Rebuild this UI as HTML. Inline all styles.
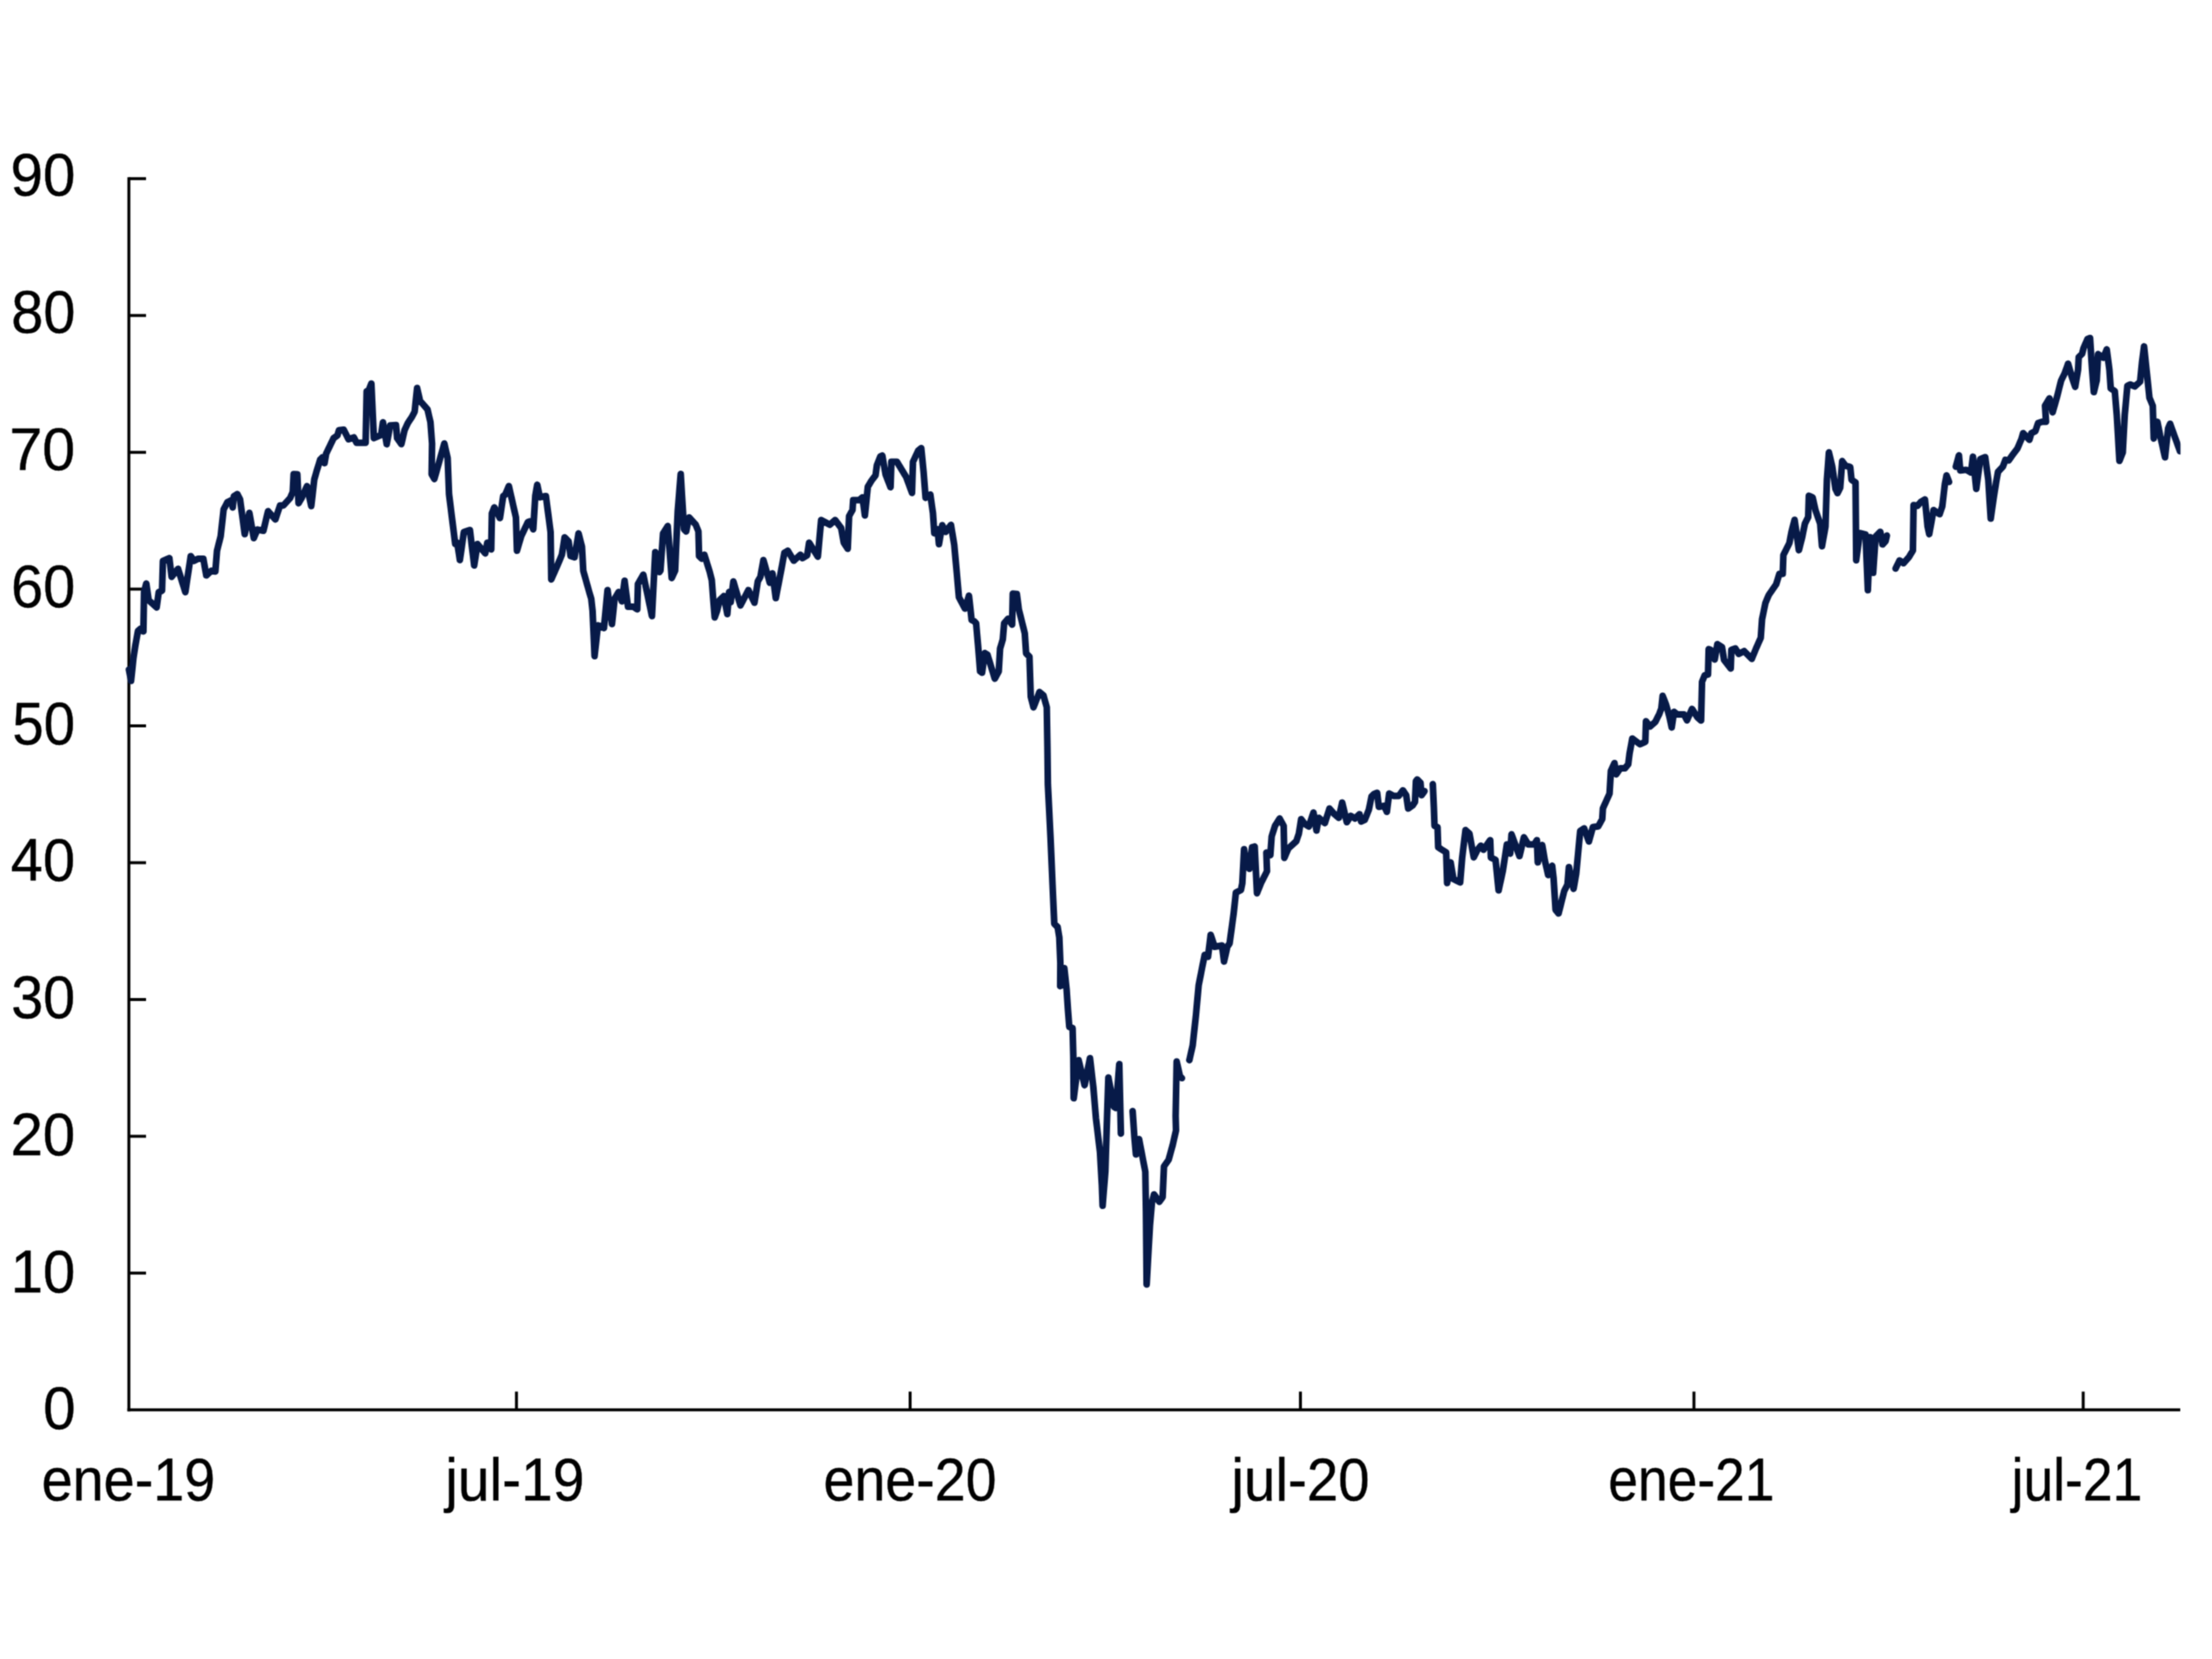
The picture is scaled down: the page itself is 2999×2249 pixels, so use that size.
<!DOCTYPE html>
<html><head><meta charset="utf-8"><title>chart</title>
<style>
html,body{margin:0;padding:0;background:#fff;}
body{width:2999px;height:2249px;overflow:hidden;}
svg{display:block;}
text{font-family:"Liberation Sans",sans-serif;font-size:82px;fill:#000;stroke:#000;stroke-width:0.5px;}
.ax line{stroke:#000;stroke-width:4;stroke-linecap:butt;}
</style></head><body>
<svg width="2999" height="2249" viewBox="0 0 2999 2249">
<rect width="2999" height="2249" fill="#fff"/>
<filter id="soft" color-interpolation-filters="sRGB" x="0" y="0" width="2999" height="2249" filterUnits="userSpaceOnUse"><feConvolveMatrix order="3" kernelMatrix="1 2 1 2 4 2 1 2 1" divisor="16" edgeMode="duplicate" preserveAlpha="false"/></filter>
<g filter="url(#soft)">
<g class="ax">
<line x1="174.7" x2="174.7" y1="240.2" y2="1913.3"/>
<line x1="172.7" x2="2956" y1="1911.3" y2="1911.3"/>
<line x1="174.7" x2="198" y1="1725.8" y2="1725.8"/>
<line x1="174.7" x2="198" y1="1540.4" y2="1540.4"/>
<line x1="174.7" x2="198" y1="1355.0" y2="1355.0"/>
<line x1="174.7" x2="198" y1="1169.5" y2="1169.5"/>
<line x1="174.7" x2="198" y1="984.0" y2="984.0"/>
<line x1="174.7" x2="198" y1="798.6" y2="798.6"/>
<line x1="174.7" x2="198" y1="613.2" y2="613.2"/>
<line x1="174.7" x2="198" y1="427.7" y2="427.7"/>
<line x1="174.7" x2="198" y1="242.2" y2="242.2"/>
<line x1="700.2" x2="700.2" y1="1886.5" y2="1911.3"/>
<line x1="1233.9" x2="1233.9" y1="1886.5" y2="1911.3"/>
<line x1="1763.1" x2="1763.1" y1="1886.5" y2="1911.3"/>
<line x1="2296.6" x2="2296.6" y1="1886.5" y2="1911.3"/>
<line x1="2824.4" x2="2824.4" y1="1886.5" y2="1911.3"/>
</g>
<g class="yl">
<text transform="translate(58.61,1937.3) scale(0.9641,1)">0</text>
<text transform="translate(14.53,1751.6) scale(0.9610,1)">10</text>
<text transform="translate(14.15,1565.8) scale(0.9631,1)">20</text>
<text transform="translate(15.14,1380.0) scale(0.9518,1)">30</text>
<text transform="translate(14.49,1194.2) scale(0.9570,1)">40</text>
<text transform="translate(16.77,1008.5) scale(0.9333,1)">50</text>
<text transform="translate(14.88,822.7) scale(0.9548,1)">60</text>
<text transform="translate(12.68,636.9) scale(0.9798,1)">70</text>
<text transform="translate(15.19,451.2) scale(0.9536,1)">80</text>
<text transform="translate(14.24,265.4) scale(0.9643,1)">90</text>
</g>
<g class="xl">
<text transform="translate(56.51,2033.8) scale(0.9219,1)">ene-19</text>
<text transform="translate(603.68,2033.8) scale(0.9407,1)">jul-19</text>
<text transform="translate(1116.53,2033.8) scale(0.9185,1)">ene-20</text>
<text transform="translate(1669.47,2033.8) scale(0.9352,1)">jul-20</text>
<text transform="translate(2180.57,2033.8) scale(0.8822,1)">ene-21</text>
<text transform="translate(2727.37,2033.8) scale(0.8834,1)">jul-21</text>
</g>
<clipPath id="pc"><rect x="150" y="200" width="2806.3" height="1750"/></clipPath>
<path clip-path="url(#pc)" d="M174.8,907.6 L177.7,923.0 L180.8,893.2 L183.5,875.1 L187.1,855.2 L190.4,852.5 L194.4,856.1 L195.3,802.7 L198.3,791.0 L201.6,813.6 L212.4,823.5 L215.2,802.7 L219.7,800.9 L220.9,760.3 L229.6,756.6 L232.7,782.0 L241.4,771.1 L251.3,802.7 L258.6,753.9 L263.1,760.3 L268.5,757.5 L275.7,757.5 L279.7,780.1 L286.6,773.8 L292.0,774.7 L294.2,746.7 L299.2,726.8 L303.2,690.6 L308.3,680.7 L313.3,678.3 L315.5,687.9 L317.0,672.9 L321.8,669.8 L325.5,677.1 L331.8,724.1 L338.1,695.2 L344.1,729.5 L349.0,717.8 L357.1,719.6 L363.4,693.0 L373.4,704.2 L379.7,685.2 L384.2,685.2 L393.3,675.3 L396.9,667.1 L398.1,642.7 L403.1,643.1 L404.8,682.2 L408.9,675.3 L416.2,659.0 L422.0,686.1 L426.1,650.0 L429.7,637.3 L434.2,622.9 L437.0,620.1 L440.0,627.9 L442.2,615.0 L452.3,594.0 L457.4,590.4 L459.5,583.2 L466.0,582.5 L472.5,595.5 L479.8,592.9 L483.4,600.2 L495.7,600.2 L497.1,530.4 L500.0,528.9 L503.5,519.9 L506.9,594.0 L516.7,589.7 L519.2,572.5 L524.3,602.2 L529.0,576.7 L536.9,576.3 L538.4,594.0 L544.2,602.1 L548.5,583.2 L552.8,573.8 L558.6,565.1 L562.2,557.9 L565.5,526.0 L569.5,543.4 L579.6,555.0 L583.6,572.3 L585.8,601.3 L585.2,642.7 L588.9,649.4 L594.3,630.1 L602.4,601.2 L606.9,621.0 L608.8,669.9 L612.7,701.4 L617.2,737.5 L619.9,735.7 L623.5,759.2 L628.9,721.3 L637.1,718.6 L642.9,766.5 L647.4,737.5 L657.9,750.2 L660.6,735.7 L666.0,744.8 L666.9,695.9 L670.2,687.8 L677.8,702.3 L682.3,672.4 L685.0,670.6 L689.9,658.9 L699.5,701.4 L700.9,746.6 L706.7,726.7 L715.7,707.7 L718.4,706.8 L723.0,717.6 L725.7,672.4 L728.4,657.1 L732.0,674.2 L740.1,672.4 L746.5,721.3 L747.4,785.5 L757.3,762.9 L761.8,752.0 L765.5,728.5 L770.9,733.9 L773.6,753.8 L779.0,755.6 L784.4,723.1 L789.0,741.2 L790.8,773.7 L798.9,802.6 L801.6,811.7 L803.4,828.0 L806.1,889.4 L810.7,847.8 L814.3,848.8 L818.8,851.5 L823.7,799.9 L829.7,846.0 L833.3,811.7 L838.7,802.6 L843.2,815.3 L846.8,787.3 L851.4,822.5 L858.6,822.5 L864.0,826.1 L864.9,791.8 L872.2,779.1 L883.9,835.2 L888.4,748.4 L893.9,775.5 L895.4,773.7 L899.0,723.1 L905.3,713.1 L910.7,783.7 L915.3,773.7 L918.9,692.3 L922.9,642.6 L927.4,717.6 L930.3,720.4 L934.2,701.4 L943.3,711.3 L946.9,720.4 L947.8,753.8 L951.4,757.4 L955.0,752.0 L962.3,775.5 L965.0,786.4 L966.8,809.9 L969.0,837.0 L972.2,828.0 L975.8,813.5 L981.3,808.1 L986.1,832.5 L988.5,802.6 L990.7,816.2 L994.3,788.2 L1003.9,820.7 L1014.7,799.9 L1022.9,817.1 L1027.4,788.2 L1031.0,781.8 L1035.0,759.2 L1043.7,790.0 L1047.3,777.3 L1051.8,810.8 L1059.0,773.7 L1063.5,749.3 L1068.1,746.6 L1076.2,760.1 L1085.2,752.0 L1088.0,756.5 L1094.3,752.9 L1097.0,735.7 L1108.8,754.7 L1113.3,705.0 L1125.0,711.3 L1132.3,705.0 L1140.4,715.8 L1144.0,735.7 L1149.4,743.9 L1151.2,699.6 L1155.8,691.4 L1156.7,677.9 L1164.8,677.9 L1169.3,674.2 L1172.6,698.7 L1176.6,659.8 L1181.7,651.4 L1187.1,644.2 L1188.9,630.6 L1193.5,618.9 L1196.2,617.6 L1200.7,643.3 L1207.4,660.5 L1208.5,626.1 L1216.1,626.1 L1228.7,646.9 L1236.5,668.2 L1237.8,626.1 L1245.0,610.7 L1249.0,607.5 L1252.2,639.7 L1254.9,674.9 L1261.3,670.4 L1264.9,695.7 L1266.7,722.9 L1271.2,717.4 L1273.0,737.7 L1277.5,712.0 L1282.1,721.0 L1289.3,711.6 L1293.8,739.1 L1297.4,778.9 L1300.1,809.7 L1308.3,825.0 L1313.7,807.5 L1317.3,840.4 L1320.9,842.2 L1323.4,845.0 L1326.1,875.7 L1328.8,910.1 L1331.5,911.9 L1335.2,885.3 L1338.8,887.5 L1348.7,920.0 L1354.1,910.1 L1355.9,879.3 L1359.6,866.7 L1361.4,845.0 L1366.8,838.7 L1372.2,846.8 L1373.1,804.8 L1378.6,805.2 L1381.3,826.0 L1389.4,858.6 L1391.2,885.7 L1395.7,890.2 L1397.5,944.4 L1401.2,958.9 L1409.3,938.1 L1414.7,942.6 L1419.2,958.9 L1420.1,1013.2 L1420.7,1063.3 L1424.3,1135.6 L1427.0,1198.9 L1429.4,1252.3 L1433.9,1256.8 L1436.2,1270.8 L1437.6,1305.2 L1437.4,1336.9 L1440.1,1335.0 L1443.0,1312.4 L1446.1,1341.4 L1447.9,1368.5 L1449.7,1392.0 L1454.2,1393.8 L1455.2,1431.8 L1455.7,1488.8 L1462.4,1437.2 L1470.5,1471.2 L1477.8,1434.5 L1482.3,1473.4 L1485.9,1516.2 L1491.3,1561.4 L1493.9,1606.6 L1494.9,1634.6 L1498.6,1588.5 L1500.9,1516.2 L1502.7,1460.7 L1510.3,1500.5 L1513.0,1502.0 L1517.5,1442.6 L1519.7,1536.7 M1535.6,1506.2 L1538.0,1541.5 L1540.1,1565.0 L1544.3,1544.2 L1548.3,1565.0 L1552.8,1588.5 L1553.7,1642.7 L1554.6,1741.3 L1559.1,1660.8 L1561.8,1630.1 L1564.6,1619.2 L1571.8,1629.2 L1576.3,1622.9 L1578.1,1581.3 L1584.4,1572.2 L1589.9,1552.3 L1594.4,1532.4 L1593.9,1513.1 L1595.3,1439.0 L1599.8,1458.9 L1602.5,1461.6 M1612.5,1437.2 L1617.0,1417.3 L1621.5,1375.7 L1625.1,1335.9 L1629.7,1312.4 L1633.3,1294.4 L1637.8,1297.1 L1641.4,1267.2 L1646.8,1283.5 L1656.8,1281.7 L1659.5,1303.4 L1664.0,1283.5 L1667.1,1278.7 L1672.5,1238.9 L1675.6,1210.0 L1682.5,1206.4 L1684.3,1197.3 L1686.7,1151.2 L1689.7,1173.8 L1693.9,1177.8 L1697.5,1148.5 L1701.1,1147.6 L1704.2,1210.9 L1709.6,1197.3 L1717.8,1181.0 L1716.9,1155.7 L1722.3,1159.3 L1724.1,1134.0 L1728.6,1119.6 L1734.9,1109.6 L1740.4,1119.6 L1741.3,1163.0 L1746.7,1150.3 L1757.5,1140.4 L1760.9,1130.4 L1764.1,1110.5 L1769.0,1116.9 L1774.5,1120.5 L1780.8,1101.5 L1784.9,1125.9 L1788.0,1108.7 L1796.2,1115.9 L1802.5,1096.1 L1808.8,1103.3 L1815.2,1108.7 L1819.7,1087.9 L1826.0,1114.6 L1831.4,1106.0 L1836.9,1109.6 L1843.2,1103.7 L1845.4,1113.7 L1850.4,1111.4 L1855.8,1097.9 L1859.5,1079.8 L1863.1,1076.2 L1867.1,1074.8 L1869.4,1093.8 L1876.6,1092.4 L1880.3,1100.6 L1883.4,1075.7 L1889.3,1078.9 L1896.5,1078.9 L1902.0,1071.4 L1906.5,1078.0 L1909.2,1096.1 L1915.5,1091.5 L1918.4,1087.0 L1919.7,1059.0 L1921.4,1056.7 L1925.9,1061.2 L1927.3,1078.0 L1931.3,1072.5 M1942.6,1063.1 L1944.0,1094.2 L1944.9,1119.6 L1949.0,1121.4 L1949.9,1148.5 L1953.5,1151.0 L1960.7,1155.5 L1962.0,1197.1 L1966.7,1169.1 L1970.6,1191.7 L1979.7,1196.2 L1982.4,1162.7 L1986.9,1125.3 L1992.3,1130.2 L1998.1,1162.2 L2003.2,1151.9 L2007.7,1146.5 L2011.3,1151.9 L2020.4,1138.9 L2021.3,1162.7 L2027.6,1165.5 L2031.8,1207.1 L2037.5,1180.8 L2043.0,1144.7 L2047.5,1157.3 L2049.3,1131.1 L2060.1,1160.6 L2066.1,1135.1 L2071.9,1144.7 L2080.0,1144.7 L2083.7,1138.9 L2084.9,1169.1 L2090.9,1145.6 L2094.5,1166.4 L2099.0,1186.3 L2104.4,1173.6 L2106.3,1189.9 L2109.0,1233.3 L2113.1,1238.3 L2120.7,1208.0 L2125.2,1198.9 L2127.1,1175.4 L2133.4,1204.9 L2137.0,1184.4 L2142.4,1126.6 L2147.8,1123.0 L2154.2,1140.7 L2159.6,1121.2 L2166.8,1120.3 L2172.3,1110.3 L2173.2,1095.8 L2182.2,1075.9 L2184.0,1045.2 L2188.9,1034.4 L2191.2,1049.7 L2196.7,1041.6 L2203.0,1041.6 L2207.5,1036.2 L2209.3,1021.7 L2213.0,1001.2 L2223.5,1009.0 L2230.7,1005.7 L2231.6,977.7 L2237.1,984.9 L2244.3,978.6 L2249.7,967.7 L2252.4,960.5 L2254.2,943.3 L2258.8,955.1 L2263.3,971.4 L2266.5,986.2 L2269.6,965.0 L2274.1,968.6 L2283.2,968.6 L2287.2,976.4 L2294.0,961.0 L2301.3,972.3 L2306.3,976.8 L2307.6,924.3 L2311.2,915.3 L2315.7,914.4 L2316.6,880.0 L2319.3,880.9 L2324.8,894.1 L2328.4,873.2 L2334.7,877.3 L2337.4,894.5 L2346.5,906.3 L2347.4,880.9 L2352.8,879.1 L2357.3,886.4 L2364.6,882.7 L2375.0,893.2 L2380.8,879.1 L2387.2,864.7 L2389.0,839.3 L2393.5,817.6 L2398.0,806.8 L2408.0,792.3 L2412.5,777.9 L2417.0,777.9 L2417.9,752.5 L2426.0,736.3 L2428.9,720.9 L2433.1,704.7 L2438.9,745.9 L2443.4,728.2 L2447.0,710.1 L2451.5,701.0 L2452.4,672.1 L2457.5,674.3 L2461.5,692.0 L2467.8,710.1 L2470.2,740.5 L2475.0,713.7 L2476.9,650.4 L2479.6,613.3 L2484.1,632.3 L2488.6,663.1 L2491.3,668.5 L2494.9,661.3 L2497.6,625.1 L2502.2,631.4 L2508.5,633.2 L2510.3,650.4 L2515.7,654.0 L2516.6,759.5 L2521.5,722.7 L2529.3,724.6 L2532.4,800.1 L2535.3,728.2 L2539.6,776.6 L2542.9,727.3 L2549.2,720.9 L2552.3,738.1 L2556.4,733.6 L2558.2,726.0 M2570.0,770.7 L2575.4,759.8 L2580.8,763.4 L2588.1,755.3 L2593.5,746.3 L2594.4,684.8 L2599.8,685.7 L2604.3,680.3 L2609.8,677.0 L2613.4,713.7 L2615.6,724.2 L2621.5,691.5 L2629.7,697.1 L2633.3,686.6 L2636.9,655.8 L2639.1,644.4 L2642.5,653.3 M2651.7,632.7 L2655.9,617.3 L2657.7,637.8 L2665.8,636.9 L2672.2,640.5 L2674.9,619.1 L2679.4,662.7 L2684.8,622.4 L2691.5,619.7 L2695.7,650.4 L2699.0,703.1 L2702.6,677.6 L2706.4,653.2 L2708.9,639.6 L2715.6,632.4 L2718.9,623.3 L2723.4,624.2 L2729.7,615.2 L2735.2,608.0 L2740.6,595.3 L2742.9,587.2 L2751.4,596.2 L2754.1,587.2 L2759.6,584.4 L2763.2,573.6 L2768.6,571.8 L2774.0,571.8 L2772.6,550.1 L2778.6,540.0 L2782.9,559.0 L2788.9,538.0 L2794.3,516.3 L2799.3,506.1 L2803.9,493.1 L2809.3,512.1 L2813.5,524.4 L2817.4,501.3 L2818.3,484.1 L2822.9,479.6 L2824.7,472.3 L2830.1,459.7 L2833.7,458.2 L2836.4,501.3 L2838.8,531.6 L2842.7,515.7 L2844.6,480.1 L2851.8,485.0 L2856.3,473.6 L2859.9,501.3 L2861.7,526.6 L2867.2,530.2 L2869.9,562.7 L2873.5,624.8 L2878.0,613.4 L2880.7,562.7 L2884.3,523.0 L2888.0,521.2 L2894.3,523.9 L2901.5,517.5 L2904.2,490.4 L2906.9,469.6 L2910.6,504.9 L2914.2,539.2 L2918.7,550.1 L2920.0,594.4 L2925.0,571.8 L2928.6,589.9 L2935.3,619.9 L2939.5,580.8 L2942.2,574.5 L2949.3,594.2 L2955.6,611.8" fill="none" stroke="#071a48" stroke-width="9" stroke-linejoin="round" stroke-linecap="round"/>
</g>
</svg>
</body></html>
